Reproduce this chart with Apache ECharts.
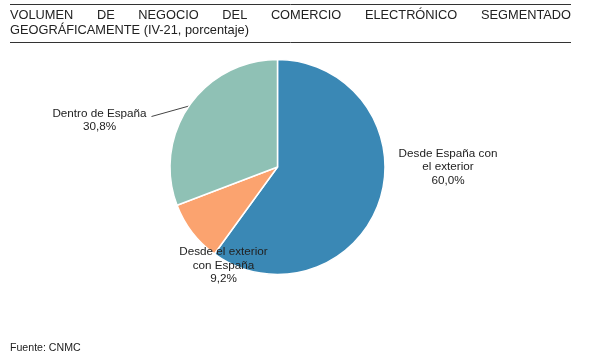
<!DOCTYPE html>
<html><head><meta charset="utf-8">
<script src="https://cdn.jsdelivr.net/npm/echarts@6/dist/echarts.min.js"></script>
<style>html,body{margin:0;padding:0;background:#fff}#c{width:600px;height:361px}</style>
</head><body><div id="c"></div>
<script>
var titleLine1 = ['VOLUMEN','DE','NEGOCIO','DEL','COMERCIO','ELECTRÓNICO','SEGMENTADO'];
var titleLine2 = 'GEOGRÁFICAMENTE (IV-21, porcentaje)';
var source = 'Fuente: CNMC';
var categories = ['Desde España con\nel exterior', 'Desde el exterior\ncon España', 'Dentro de España'];
var values = [60.0, 9.2, 30.8];
var colors = ['#3a88b5', '#fba36f', '#8fc1b5'];

var FONT = '12.8px "Liberation Sans", Arial, sans-serif';
var ctx = document.createElement('canvas').getContext('2d');
ctx.font = FONT;
var left = 10, right = 571;
var widths = titleLine1.map(function(w){return ctx.measureText(w).width;});
var total = widths.reduce(function(a,b){return a+b;},0);
var gap = (right - left - total) / (titleLine1.length - 1);
var graphics = [];
var x = left;
titleLine1.forEach(function(w,i){
  graphics.push({type:'text', x:x, y:15, style:{text:w, font:FONT, fill:'#222', verticalAlign:'middle'}});
  x += widths[i] + gap;
});
graphics.push({type:'text', x:left, y:30.5, style:{text:titleLine2, font:FONT, fill:'#222', verticalAlign:'middle'}});
graphics.push({type:'line', shape:{x1:left,y1:4.5,x2:right,y2:4.5}, style:{stroke:'#333', lineWidth:1}});
graphics.push({type:'line', shape:{x1:left,y1:42.5,x2:right,y2:42.5}, style:{stroke:'#333', lineWidth:1}});
graphics.push({type:'text', x:left, y:348, style:{text:source, font:'10.6px "Liberation Sans", Arial, sans-serif', fill:'#222', verticalAlign:'middle'}});

var labelPos = [[448,167],[223.5,265.5],[99.5,120.5]];

var chart = echarts.init(document.getElementById('c'), null, {renderer:'canvas'});
chart.setOption({
  animation:false,
  graphic: graphics,
  series:[{
    type:'pie',
    center:[277.5,167],
    radius:107.5,
    startAngle:90,
    clockwise:true,
    itemStyle:{borderColor:'#fff', borderWidth:1.5},
    label:{
      show:true, position:'outside', color:'#222', fontSize:11.7,
      fontFamily:'"Liberation Sans", Arial, sans-serif', lineHeight:13.5, align:'center',
      formatter:function(p){return p.name + '\n' + p.value.toFixed(1).replace('.',',') + '%';}
    },
    labelLine:{show:false, lineStyle:{color:'#444', width:1}},
    labelLayout:function(p){
      var pos = labelPos[p.dataIndex];
      var r = {x:pos[0], y:pos[1], align:'center', verticalAlign:'middle'};
      if (p.dataIndex === 2 && p.labelLinePoints) {
        var s = p.labelLinePoints[0];
        var e = [pos[0] + 52, pos[1] - 4];
        r.labelLinePoints = [s, e, e];
      }
      return r;
    },
    data: categories.map(function(c,i){
      var d = {name:c, value:values[i], itemStyle:{color:colors[i]}};
      if (i === 2) d.labelLine = {show:true, length:15, length2:0};
      return d;
    })
  }]
});
</script></body></html>
